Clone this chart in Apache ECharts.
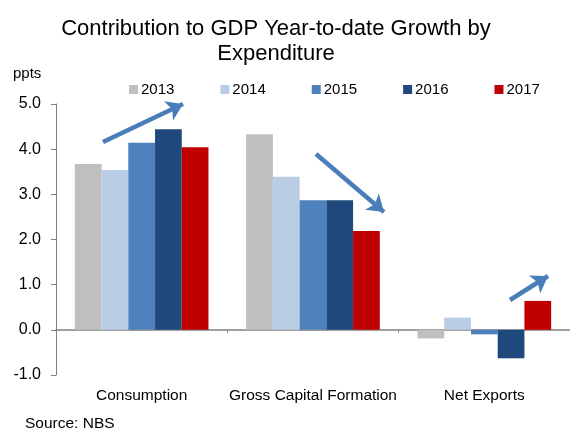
<!DOCTYPE html>
<html><head><meta charset="utf-8">
<script src="https://cdn.jsdelivr.net/npm/echarts@6/dist/echarts.min.js"></script>
<style>html,body{margin:0;padding:0;background:#fff}#c{width:570px;height:432px}</style>
</head><body><div id="c"></div>
<script>
var categories = ['Consumption', 'Gross Capital Formation', 'Net Exports'];
var years = ['2013', '2014', '2015', '2016', '2017'];
var v2013 = [3.67, 4.33, -0.19];
var v2014 = [3.54, 3.39, 0.27];
var v2015 = [4.14, 2.87, -0.10];
var v2016 = [4.44, 2.87, -0.63];
var v2017 = [4.04, 2.19, 0.64];
var yTicks = [-1, 0, 1, 2, 3, 4, 5];
var colors = ['#bfbfbf', '#b9cde5', '#4f81bd', '#1f497d', '#c00000'];
var values = [v2013, v2014, v2015, v2016, v2017];

var FONT = 'Liberation Sans, Arial, sans-serif';
var arrowStyle = {color: '#4a7ebb', width: 4.5, type: 'solid'};
var arrows = [
  [{x: 103, y: 142}, {x: 183, y: 104}],
  [{x: 316, y: 154}, {x: 384, y: 212}],
  [{x: 510, y: 300}, {x: 548, y: 276}]
];

var series = years.map(function (y, i) {
  var s = {
    name: y, type: 'bar', data: values[i], barGap: '0%', barCategoryGap: '22%',
    itemStyle: {color: colors[i]}, silent: true
  };
  if (i === 4) {
    s.markLine = {
      silent: true, symbol: ['none', 'arrow'], symbolSize: [16, 16],
      label: {show: false}, lineStyle: arrowStyle,
      data: arrows.map(function (a) { return [a[0], a[1]]; })
    };
  }
  return s;
});

var chart = echarts.init(document.getElementById('c'));
chart.setOption({
  animation: false,
  backgroundColor: '#fff',
  color: colors,
  title: {
    text: 'Contribution to GDP Year-to-date Growth by\nExpenditure',
    left: 271, textAlign: 'center', top: 11,
    textStyle: {fontFamily: FONT, fontSize: 22, fontWeight: 'normal', color: '#000', lineHeight: 25}
  },
  legend: {
    data: years, top: 77, left: 124, itemWidth: 9, itemHeight: 9, itemGap: 46,
    icon: 'rect',
    textStyle: {fontFamily: FONT, fontSize: 15, color: '#000', padding: [0, 0, 0, -2]}
  },
  graphic: [
    {type: 'text', left: 13, top: 66, style: {text: 'ppts', font: '15px ' + FONT, fill: '#000'}},
    {type: 'text', left: 25, top: 416, style: {text: 'Source: NBS', font: '15.5px ' + FONT, fill: '#000'}}
  ],
  grid: {left: 56, top: 104, width: 528, bottom: 57, containLabel: false},
  xAxis: {
    type: 'category', data: categories,
    axisLine: {onZero: true, lineStyle: {color: '#808080', width: 1.5}},
    axisTick: {show: true, length: 3, lineStyle: {color: '#808080'}},
    axisLabel: {fontFamily: FONT, fontSize: 15.5, color: '#000', margin: 13, interval: 0}
  },
  yAxis: {
    type: 'value', min: -1, max: 5, interval: 1,
    axisLine: {show: true, lineStyle: {color: '#808080'}},
    axisTick: {show: true, length: 5, lineStyle: {color: '#808080'}},
    splitLine: {show: false},
    axisLabel: {fontFamily: FONT, fontSize: 16, color: '#000', margin: 15,
      formatter: function (v) { return v.toFixed(1); }}
  },
  series: series
});
</script></body></html>
